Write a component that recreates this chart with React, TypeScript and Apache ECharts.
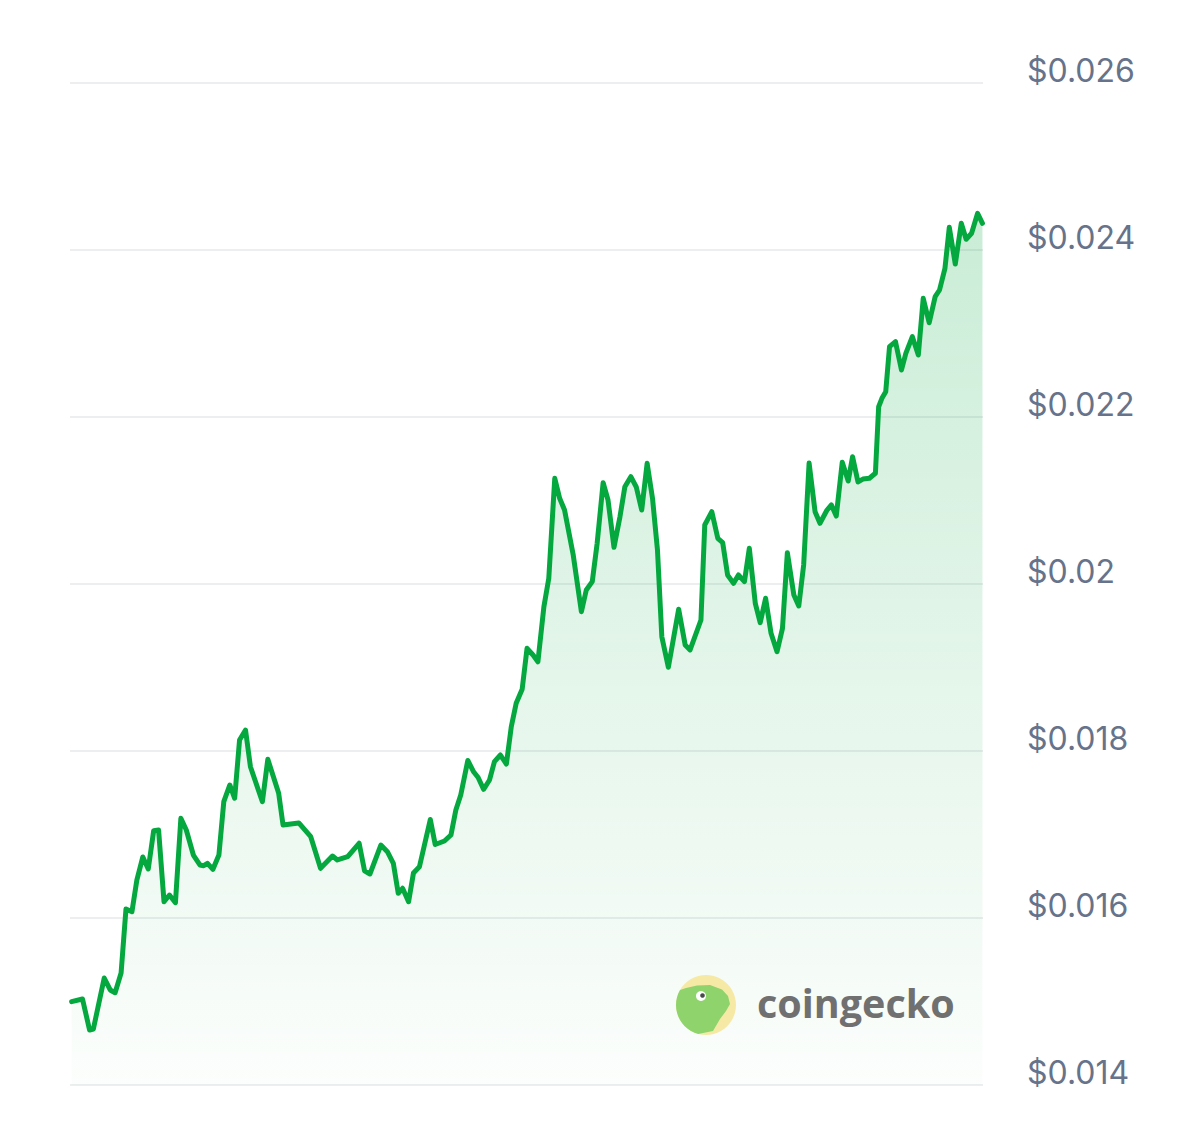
import React, { useEffect, useRef } from "react";
import * as echarts from "echarts";

// hours since start of window
const hours: number[] = [
  0.3, 2.3, 3.6, 4.3, 6.3, 7.4, 8.3, 9.4, 10.3, 11.4, 12.3, 13.4, 14.4, 15.4, 16.3, 17.3, 18.3, 19.4, 20.4, 21.4,
  22.7, 23.9, 24.6, 25.3, 26.3, 27.4, 28.3, 29.4, 30.3, 31.2, 32.3, 33.2, 35.4, 36.4, 38.4, 39.2, 42.1, 44.3, 46.1, 48.3,
  49.2, 51.1, 53.2, 54.2, 55.2, 57.2, 58.4, 59.5, 60.4, 61.2, 62.3, 63.2, 64.3, 66.3, 67.2, 68.9, 70.1, 71.0, 71.9, 73.2,
  74.3, 75.1, 76.1, 77.2, 78.1, 79.2, 80.3, 81.2, 82.1, 83.2, 84.1, 85.2, 86.1, 87.2, 88.1, 89.2, 90.1, 91.0, 92.6, 94.1,
  95.0, 96.1, 97.0, 98.1, 99.0, 100.1, 101.2, 102.1, 103.2, 104.2, 105.2, 106.2, 107.2, 108.1, 108.9, 110.1, 112.0, 113.2, 114.1, 116.1,
  116.8, 118.1, 119.2, 120.1, 121.0, 122.1, 123.0, 124.1, 125.0, 126.1, 127.0, 128.0, 129.0, 130.1, 131.1, 132.0, 133.2, 134.1, 135.0, 136.0,
  137.1, 138.0, 139.3, 140.1, 141.0, 142.1, 143.2, 144.0, 145.0, 145.9, 147.1, 148.2, 148.8, 149.4, 150.1, 150.8, 151.9, 153.0, 153.8, 155.0,
  156.1, 157.0, 158.1, 159.2, 160.0, 161.0, 161.8, 162.9, 164.0, 164.9, 165.9, 167.0, 167.9,
];

const prices: number[] = [
  0.014998, 0.01503, 0.014659, 0.014671, 0.015281, 0.015138, 0.015105, 0.015341, 0.016108, 0.016075, 0.016455, 0.016731, 0.016587, 0.017046, 0.017054, 0.016195, 0.016275, 0.016183, 0.017194, 0.017054,
  0.016754, 0.016635, 0.016626, 0.016655, 0.016583, 0.016754, 0.017393, 0.017593, 0.017434, 0.018132, 0.018251, 0.017812, 0.017393, 0.017901, 0.017493, 0.017114, 0.017138, 0.016974, 0.016595, 0.016742,
  0.016695, 0.016734, 0.016895, 0.016566, 0.016527, 0.016874, 0.016794, 0.016655, 0.016296, 0.016356, 0.016195, 0.016539, 0.016614, 0.01718, 0.01688, 0.016922, 0.016994, 0.017293, 0.017473, 0.017886,
  0.017748, 0.017683, 0.017541, 0.017653, 0.017872, 0.017952, 0.017844, 0.018291, 0.018571, 0.018739, 0.01923, 0.01915, 0.019069, 0.019728, 0.020068, 0.021266, 0.021026, 0.020886, 0.020347, 0.019668,
  0.019928, 0.020028, 0.020487, 0.021213, 0.021006, 0.020439, 0.020806, 0.021165, 0.021285, 0.021162, 0.020886, 0.021445, 0.021018, 0.020407, 0.019369, 0.019002, 0.019697, 0.019269, 0.01921, 0.019569,
  0.020707, 0.020866, 0.020547, 0.020495, 0.020108, 0.020008, 0.020108, 0.020028, 0.020427, 0.019769, 0.019537, 0.019829, 0.01941, 0.019189, 0.019469, 0.020375, 0.019868, 0.019737, 0.020228, 0.021449,
  0.020866, 0.020727, 0.020886, 0.020946, 0.020814, 0.021457, 0.021233, 0.021525, 0.021222, 0.021257, 0.021266, 0.021326, 0.022123, 0.022224, 0.022303, 0.022842, 0.022902, 0.022563, 0.022763, 0.022962,
  0.022742, 0.023421, 0.023129, 0.023441, 0.023521, 0.023781, 0.024272, 0.023832, 0.02432, 0.024128, 0.0242, 0.024439, 0.02432,
];

const yMin = 0.014;
const yMax = 0.026;
const yStep = 0.002;
const watermarkText = "coingecko";

export default function App() {
  const ref = useRef<HTMLDivElement>(null);

  useEffect(() => {
    if (!ref.current) return;
    const chart = echarts.init(ref.current, null, { renderer: "svg" });
    const data = hours.map((h, i) => [h, prices[i]]);

    // watermark logo geometry (circle centre / radius)
    const cx = 706;
    const cy = 1005;
    const r = 30;
    const arc: number[][] = [];
    for (let a = 210; a >= 100; a -= 7.5) {
      const rad = (a * Math.PI) / 180;
      arc.push([cx + r * Math.cos(rad), cy + r * Math.sin(rad)]);
    }
    const gecko = arc.concat([
      [713, 1031],
      [720, 1019],
      [726, 1011],
      [730, 1004],
      [728, 996],
      [722, 989.5],
      [710, 985],
      [697, 985.5],
      [686, 988],
    ]);

    chart.setOption({
      animation: false,
      backgroundColor: "#ffffff",
      grid: { left: 70, right: 217, top: 83, bottom: 58 },
      xAxis: {
        type: "value",
        min: 0,
        max: 168,
        show: false,
      },
      yAxis: {
        type: "value",
        position: "right",
        min: yMin,
        max: yMax,
        interval: yStep,
        axisLine: { show: false },
        axisTick: { show: false },
        splitLine: { lineStyle: { color: "#eceef0", width: 2 } },
        axisLabel: {
          margin: 44,
          align: "left",
          verticalAlign: "bottom",
          lineHeight: 26,
          fontFamily: "Inter",
          fontSize: 32,
          color: "#66738a",
          formatter: (v: number) => "$" + parseFloat(v.toFixed(3)),
        },
      },
      series: [
        {
          type: "line",
          data,
          showSymbol: false,
          symbol: "none",
          lineStyle: { color: "#05a83f", width: 5, join: "round", cap: "round" },
          areaStyle: {
            color: new echarts.graphic.LinearGradient(0, 0, 0, 1, [
              { offset: 0, color: "rgba(0,168,62,0.30)" },
              { offset: 1, color: "rgba(0,168,62,0.02)" },
            ]),
          },
          z: 2,
        },
      ],
      graphic: [
        {
          type: "circle",
          shape: { cx, cy, r },
          style: { fill: "#f6e9a6" },
          z: 10,
        },
        {
          type: "polygon",
          shape: { points: gecko },
          style: { fill: "#8fd36c" },
          z: 11,
        },
        {
          type: "circle",
          shape: { cx: 701, cy: 996, r: 5 },
          style: { fill: "#ffffff" },
          z: 12,
        },
        {
          type: "circle",
          shape: { cx: 702.5, cy: 995.5, r: 2.3 },
          style: { fill: "#4a4a4a" },
          z: 13,
        },
        {
          type: "text",
          x: 757,
          y: 1003,
          style: {
            text: watermarkText,
            fontFamily: "Open Sans",
            fontWeight: "bold",
            fontSize: 39.5,
            fill: "#707070",
            verticalAlign: "middle",
          },
          z: 12,
        },
      ],
    });

    return () => chart.dispose();
  }, []);

  return (
    <div
      ref={ref}
      style={{ position: "fixed", left: 0, top: 0, width: 1200, height: 1143 }}
    />
  );
}
